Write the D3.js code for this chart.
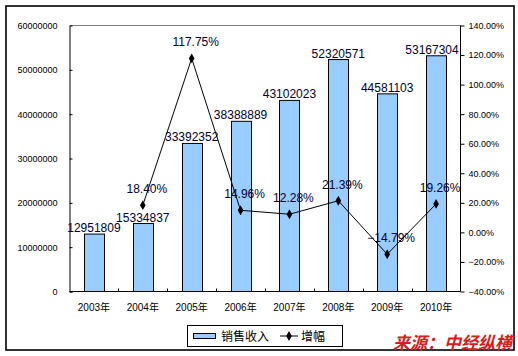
<!DOCTYPE html>
<html><head><meta charset="utf-8">
<script src="https://cdn.jsdelivr.net/npm/d3@7"></script>
<style>body{margin:0;background:#fff}</style>
</head><body>
<svg id="c" width="518" height="356"></svg>
<script>
const years = ["2003年","2004年","2005年","2006年","2007年","2008年","2009年","2010年"];
const sales = [12951809, 15334837, 33392352, 38388889, 43102023, 52320571, 44581103, 53167304];
const growth = [null, 18.40, 117.75, 14.96, 12.28, 21.39, -14.79, 19.26];
const leftTicks = [0,10000000,20000000,30000000,40000000,50000000,60000000];
const rightTicks = [-40,-20,0,20,40,60,80,100,120,140];
const legendLabels = ["销售收入","增幅"];
const sourceText = "来源：中经纵横";

const svg = d3.select("#c");
const font = "'Liberation Sans', Arial, 'Noto Sans CJK SC', sans-serif";
const L = 69.5, R = 460.5, T = 25.5, B = 291.5;

const x = d3.scaleBand().domain(years).range([L, R]).padding(0);
const yL = d3.scaleLinear().domain([0, 60000000]).range([B, T]);
const yR = d3.scaleLinear().domain([-40, 140]).range([B, T]);

// outer border
svg.append("rect").attr("x",6).attr("y",6).attr("width",508).attr("height",344)
  .attr("fill","none").attr("stroke","#000").attr("stroke-width",1.6);

// top gray border of plot
svg.append("line").attr("x1",L).attr("x2",R).attr("y1",T).attr("y2",T).attr("stroke","#808080");

// bars
const bw = x.bandwidth()*0.41;
svg.selectAll("rect.bar").data(years).enter().append("rect")
  .attr("x", d => Math.round(x(d)+x.bandwidth()/2-bw/2)+0.5)
  .attr("y", (d,i) => yL(sales[i]))
  .attr("width", Math.round(bw))
  .attr("height", (d,i) => B - yL(sales[i]))
  .attr("fill","#99CCFF").attr("stroke","#000").attr("stroke-width",1);

// left axis
const gl = svg.append("g").attr("transform",`translate(${L},0)`)
  .call(d3.axisLeft(yL).tickValues(leftTicks).tickSize(-3).tickPadding(12).tickFormat(d3.format("d")));
gl.select(".domain").attr("stroke","#000");
gl.selectAll("text").attr("font-family",font).attr("font-size",9).attr("fill","#000");
gl.selectAll(".tick line").filter(d=>d===60000000).remove();

// right axis
const gr = svg.append("g").attr("transform",`translate(${R},0)`)
  .call(d3.axisRight(yR).tickValues(rightTicks).tickSize(4).tickPadding(4).tickFormat(d => d3.format(".2f")(d)+"%"));
gr.select(".domain").attr("stroke","#000").attr("d",`M0,${T}V${B}`);
gr.selectAll("text").attr("font-family",font).attr("font-size",9).attr("fill","#000");

// bottom axis
const gb = svg.append("g").attr("transform",`translate(0,${B})`);
gb.append("line").attr("x1",L).attr("x2",R).attr("stroke","#000");
years.forEach((d,i) => {
  if (i>0) gb.append("line").attr("x1",Math.round(x(d))+0.5).attr("x2",Math.round(x(d))+0.5).attr("y1",0).attr("y2",-3).attr("stroke","#000");
});
gb.selectAll("text").data(years).enter().append("text")
  .attr("x", d => x(d)+x.bandwidth()/2).attr("y", 19)
  .attr("text-anchor","middle").attr("font-family",font).attr("font-size",10).attr("fill","#000")
  .text(d=>d);

// bar labels
svg.selectAll("text.bl").data(years).enter().append("text")
  .attr("x", (d,i) => Math.min(x(d)+x.bandwidth()/2, 432))
  .attr("y", (d,i) => yL(sales[i]) - 2)
  .attr("text-anchor","middle").attr("font-family",font).attr("font-size",12).attr("fill","#000033")
  .text((d,i)=>sales[i]);

// growth line
const pts = years.map((d,i)=>({d, v:growth[i]})).filter(p=>p.v!==null);
const line = d3.line().x(p=>x(p.d)+x.bandwidth()/2).y(p=>yR(p.v));
svg.append("path").datum(pts).attr("d",line).attr("fill","none").attr("stroke","#000").attr("stroke-width",1);
svg.selectAll("path.mk").data(pts).enter().append("path")
  .attr("d", d3.symbol(d3.symbolDiamond, 28))
  .attr("transform", p=>`translate(${x(p.d)+x.bandwidth()/2},${yR(p.v)})`)
  .attr("fill","#000");
svg.selectAll("text.gl").data(pts).enter().append("text")
  .attr("x", p=>x(p.d)+x.bandwidth()/2+4)
  .attr("y", p=>yR(p.v)-12)
  .attr("text-anchor","middle").attr("font-family",font).attr("font-size",12).attr("fill","#000033")
  .text(p=>d3.format(".2f")(p.v)+"%");

// legend
const lg = svg.append("g");
lg.append("rect").attr("x",187.5).attr("y",325.5).attr("width",155).attr("height",21)
  .attr("fill","#fff").attr("stroke","#000");
lg.append("rect").attr("x",193.5).attr("y",333.5).attr("width",22).attr("height",5)
  .attr("fill","#99CCFF").attr("stroke","#000");
lg.append("text").attr("x",221).attr("y",340.5).attr("font-family","'Noto Sans CJK SC', sans-serif")
  .attr("font-size",12).attr("fill","#000").text(legendLabels[0]);
lg.append("line").attr("x1",280).attr("x2",298).attr("y1",336).attr("y2",336).attr("stroke","#000");
lg.append("path").attr("d", d3.symbol(d3.symbolDiamond, 28)).attr("transform","translate(289,336)").attr("fill","#000");
lg.append("text").attr("x",301).attr("y",340.5).attr("font-family","'Noto Sans CJK SC', sans-serif")
  .attr("font-size",12).attr("fill","#000").text(legendLabels[1]);

// source
svg.append("text").attr("x",512).attr("y",349).attr("text-anchor","end")
  .attr("font-family","'Noto Sans CJK SC', sans-serif").attr("font-size",17).attr("font-weight","bold")
  .attr("font-style","italic").attr("fill","#D42020").text(sourceText);
</script>
</body></html>
